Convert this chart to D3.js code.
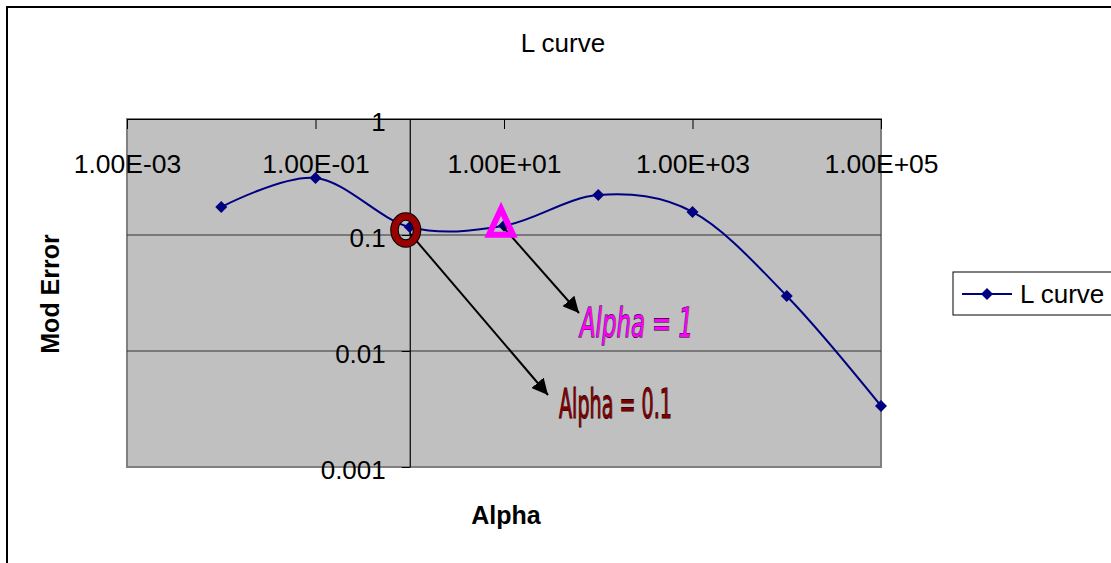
<!DOCTYPE html>
<html>
<head>
<meta charset="utf-8">
<script src="https://cdn.jsdelivr.net/npm/d3@7"></script>
<style>
  html, body { margin: 0; padding: 0; background: #fff; }
  svg { display: block; }
  text { font-family: "Liberation Sans", Arial, sans-serif; }
</style>
</head>
<body>
<svg id="chart" width="1111" height="563"></svg>
<script>
// L-curve: model error vs regularisation parameter alpha
const alpha = [0.01, 0.1, 1, 10, 100, 1000, 10000, 100000];
const modError = [0.174, 0.310, 0.117, 0.120, 0.221, 0.158, 0.0298, 0.00336];
const xTickValues = [1e-3, 1e-1, 1e1, 1e3, 1e5];
const xTickLabels = ["1.00E-03", "1.00E-01", "1.00E+01", "1.00E+03", "1.00E+05"];
const yTickValues = [1, 0.1, 0.01, 0.001];
const yTickLabels = ["1", "0.1", "0.01", "0.001"];
const gridValues = [0.1, 0.01];
const seriesName = "L curve";

const svg = d3.select("#chart");

// chart frame
svg.append("rect").attr("x", 7).attr("y", 7).attr("width", 1120).attr("height", 570)
  .attr("fill", "#fff").attr("stroke", "#000").attr("stroke-width", 2);

const x = d3.scaleLog().domain([1e-3, 1e5]).range([127, 881]);
const y = d3.scaleLog().domain([0.001, 1]).range([467, 119]);

// plot area
svg.append("rect")
  .attr("x", x.range()[0]).attr("y", y.range()[1])
  .attr("width", x.range()[1] - x.range()[0]).attr("height", y.range()[0] - y.range()[1])
  .attr("fill", "#c0c0c0").attr("stroke", "#808080").attr("stroke-width", 2);

// horizontal gridlines
svg.append("g").selectAll("line").data(gridValues).join("line")
  .attr("x1", x.range()[0]).attr("x2", x.range()[1])
  .attr("y1", d => y(d)).attr("y2", d => y(d))
  .attr("stroke", "#333").attr("stroke-width", 1);

// x axis crosses at y = 1 (top of the plot)
const xAxis = d3.axisBottom(x).tickValues(xTickValues)
  .tickFormat((d, i) => xTickLabels[i]).tickSize(10).tickSizeOuter(0);
const gx = svg.append("g").attr("transform", `translate(0,${y(1)})`).call(xAxis);
gx.select(".domain").attr("stroke", "#000").attr("stroke-width", 1.2);
gx.selectAll(".tick line").attr("stroke", "#000");
gx.selectAll(".tick text").attr("y", 54).attr("dy", 0)
  .attr("font-size", 26.5).attr("fill", "#000")
  .style("font-family", "'Liberation Sans', Arial, sans-serif");

// y axis crosses at alpha = 1
const yAxis = d3.axisLeft(y).tickValues(yTickValues)
  .tickFormat((d, i) => yTickLabels[i]).tickSize(8).tickSizeOuter(0);
const gy = svg.append("g").attr("transform", `translate(${x(1)},0)`).call(yAxis);
gy.select(".domain").attr("stroke", "#000").attr("stroke-width", 1.2);
gy.selectAll(".tick line").attr("stroke", "#000");
gy.selectAll(".tick text").attr("x", -24).attr("dy", 11)
  .attr("font-size", 26).attr("fill", "#000")
  .style("font-family", "'Liberation Sans', Arial, sans-serif");

// series line (smoothed)
const line = d3.line()
  .x((d, i) => x(alpha[i])).y(d => y(d))
  .curve(d3.curveCardinal.tension(0));
svg.append("path").datum(modError)
  .attr("d", line).attr("fill", "none")
  .attr("stroke", "#000080").attr("stroke-width", 2);

const diamond = d3.symbol().type(d3.symbolSquare).size(72);
svg.append("g").selectAll("path").data(modError).join("path")
  .attr("d", diamond)
  .attr("transform", (d, i) => `translate(${x(alpha[i])},${y(d)}) rotate(45)`)
  .attr("fill", "#000080");

// titles
svg.append("text").attr("x", 563).attr("y", 52).attr("text-anchor", "middle")
  .attr("font-size", 26).text("L curve");
svg.append("text").attr("x", 506).attr("y", 524).attr("text-anchor", "middle")
  .attr("font-size", 25).attr("font-weight", "bold").text("Alpha");
svg.append("text").attr("transform", "translate(59,294) rotate(-90)")
  .attr("text-anchor", "middle").attr("font-size", 25).attr("font-weight", "bold")
  .text("Mod Error");

// legend
const lg = svg.append("g");
lg.append("rect").attr("x", 953).attr("y", 272).attr("width", 170).attr("height", 43)
  .attr("fill", "#fff").attr("stroke", "#000").attr("stroke-width", 1);
lg.append("line").attr("x1", 962).attr("x2", 1012).attr("y1", 294).attr("y2", 294)
  .attr("stroke", "#000080").attr("stroke-width", 2);
lg.append("path").attr("d", diamond).attr("transform", "translate(987,294) rotate(45)")
  .attr("fill", "#000080");
lg.append("text").attr("x", 1020).attr("y", 303).attr("font-size", 26).text(seriesName);

// annotations
const defs = svg.append("defs");
defs.append("marker").attr("id", "arrow").attr("viewBox", "0 0 10 10")
  .attr("refX", 10).attr("refY", 5).attr("markerWidth", 8).attr("markerHeight", 8)
  .attr("markerUnits", "strokeWidth").attr("orient", "auto")
  .append("path").attr("d", "M0,0 L10,5 L0,10 Z").attr("fill", "#000");

const cPt = [x(1) - 4, y(modError[2]) + 3];
const tPt = [x(10) - 3, y(modError[3])];

svg.append("line").attr("x1", cPt[0] + 4).attr("y1", cPt[1] + 3)
  .attr("x2", 548).attr("y2", 395)
  .attr("stroke", "#000").attr("stroke-width", 2).attr("marker-end", "url(#arrow)");
svg.append("line").attr("x1", tPt[0] + 1).attr("y1", tPt[1])
  .attr("x2", 579).attr("y2", 313)
  .attr("stroke", "#000").attr("stroke-width", 2).attr("marker-end", "url(#arrow)");

// ring around the alpha = 0.1 point
svg.append("ellipse").attr("cx", cPt[0]).attr("cy", cPt[1]).attr("rx", 11.3).attr("ry", 13.5)
  .attr("fill", "none").attr("stroke", "#000").attr("stroke-width", 8.5);
svg.append("ellipse").attr("cx", cPt[0]).attr("cy", cPt[1]).attr("rx", 11.3).attr("ry", 13.5)
  .attr("fill", "none").attr("stroke", "#990000").attr("stroke-width", 6.5);

// triangle around the alpha = 1 point
const tri = `M${tPt[0]},${tPt[1] - 17} L${tPt[0] + 12},${tPt[1] + 9} L${tPt[0] - 12},${tPt[1] + 9} Z`;
svg.append("path").attr("d", tri).attr("fill", "none")
  .attr("stroke", "#ff00ff").attr("stroke-width", 6).attr("stroke-linejoin", "miter");

svg.append("text").attr("x", 580).attr("y", 337)
  .attr("textLength", 113).attr("lengthAdjust", "spacingAndGlyphs")
  .style("font-family", "'DejaVu Sans Condensed', 'DejaVu Sans', sans-serif")
  .attr("font-size", 40).attr("font-style", "italic")
  .attr("fill", "#ff00ff").attr("stroke", "#000").attr("stroke-width", 1.1)
  .style("paint-order", "stroke")
  .text("Alpha = 1");
svg.append("text").attr("x", 559).attr("y", 418)
  .attr("textLength", 113).attr("lengthAdjust", "spacingAndGlyphs")
  .style("font-family", "'DejaVu Sans Condensed', 'DejaVu Sans', sans-serif")
  .attr("font-size", 40)
  .attr("fill", "#800000").attr("stroke", "#000").attr("stroke-width", 1.1)
  .style("paint-order", "stroke")
  .text("Alpha = 0.1");
</script>
</body>
</html>
